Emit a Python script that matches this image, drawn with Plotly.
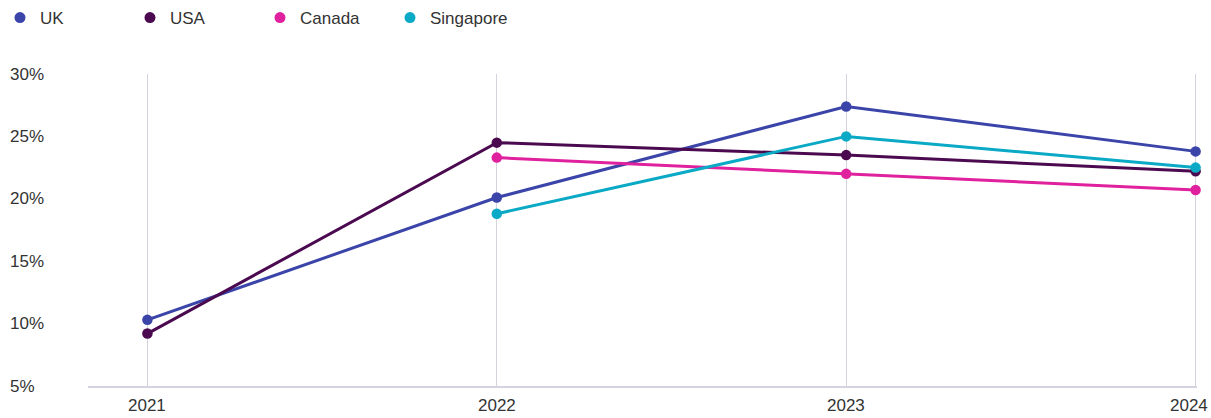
import plotly.graph_objects as go

# Yearly share by market (percent)
years = [2021, 2022, 2023, 2024]
uk = [10.3, 20.1, 27.4, 23.8]
usa = [9.2, 24.5, 23.5, 22.2]
canada = [None, 23.3, 22.0, 20.7]
singapore = [None, 18.8, 25.0, 22.5]

series_names = ["UK", "USA", "Canada", "Singapore"]
series_values = [uk, usa, canada, singapore]
series_colors = ["#3b44a8", "#4b0a50", "#e0219e", "#0aa9c5"]

y_ticks = [5, 10, 15, 20, 25, 30]
y_tick_labels = ["5%", "10%", "15%", "20%", "25%", "30%"]
x_tick_labels = [str(y) for y in years]

FONT = "Liberation Sans, Arial, sans-serif"
TEXT = "#333333"
FS = 17

fig = go.Figure()

for name, vals, color in zip(series_names, series_values, series_colors):
    fig.add_trace(go.Scatter(
        x=years, y=vals, mode="lines+markers", name=name,
        line=dict(color=color, width=3),
        marker=dict(color=color, size=10.5),
        showlegend=False, cliponaxis=False, hoverinfo="x+y+name",
    ))
    # marker-only legend entry
    fig.add_trace(go.Scatter(
        x=[None], y=[None], mode="markers", name=name,
        marker=dict(color=color, size=11), showlegend=True,
    ))

# left-aligned y tick labels
for v, lab in zip(y_ticks, y_tick_labels):
    fig.add_annotation(
        x=0, xref="paper", xshift=-80, y=v, yref="y",
        text=lab, showarrow=False, xanchor="left", yanchor="middle",
        font=dict(family=FONT, size=FS, color=TEXT),
    )

# x labels: centred under each year, the last one kept inside the page edge
for i, (yr, lab) in enumerate(zip(years, x_tick_labels)):
    last = i == len(years) - 1
    fig.add_annotation(
        x=yr, xref="x", y=0, yref="paper", yshift=-8,
        text=lab, showarrow=False,
        xanchor="right" if last else "center", xshift=14 if last else 0,
        yanchor="top", font=dict(family=FONT, size=FS, color=TEXT),
    )

fig.update_layout(
    width=1211, height=418,
    margin=dict(l=88, r=14, t=74, b=32, autoexpand=False),
    paper_bgcolor="white", plot_bgcolor="white",
    font=dict(family=FONT, size=FS, color=TEXT),
    legend=dict(
        orientation="h", x=-0.003, xref="container", xanchor="left",
        y=1.0, yref="container", yanchor="top",
        entrywidth=85, itemwidth=30,
        font=dict(family=FONT, size=FS, color=TEXT),
        traceorder="normal",
    ),
    xaxis=dict(
        range=[2020.83, 2024.004], tickvals=years, showticklabels=False,
        showgrid=True, gridcolor="#d4d4de", gridwidth=1,
        showline=True, linecolor="#d4d4de", linewidth=2,
        zeroline=False, ticks="", automargin=False,
    ),
    yaxis=dict(
        range=[5, 30], showgrid=False, showticklabels=False,
        zeroline=False, showline=False, ticks="", automargin=False,
    ),
)

fig.write_html("out.html")
